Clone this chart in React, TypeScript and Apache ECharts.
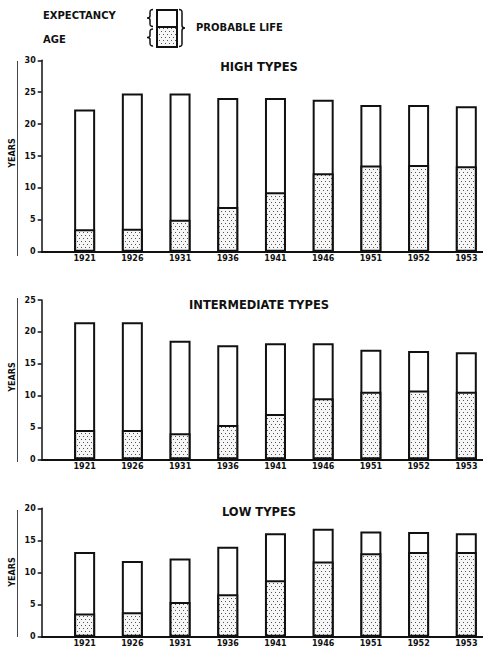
import React, { useEffect, useRef } from 'react';
import * as echarts from 'echarts';

const years = ['1921', '1926', '1931', '1936', '1941', '1946', '1951', '1952', '1953'];

const panelTitles = ['HIGH TYPES', 'INTERMEDIATE TYPES', 'LOW TYPES'];
const yAxisMax = [30, 25, 20];

// Probable life (full bar height = age + expectancy) and age (dotted lower segment)
const highLife = [22.3, 24.8, 24.8, 24.1, 24.1, 23.8, 23.0, 23.0, 22.8];
const highAge = [3.5, 3.6, 5.0, 7.0, 9.3, 12.3, 13.5, 13.6, 13.4];
const intermediateLife = [21.5, 21.5, 18.6, 17.9, 18.2, 18.2, 17.2, 17.0, 16.8];
const intermediateAge = [4.6, 4.6, 4.1, 5.4, 7.1, 9.6, 10.6, 10.8, 10.6];
const lowLife = [13.2, 11.8, 12.2, 14.0, 16.1, 16.8, 16.4, 16.3, 16.1];
const lowAge = [3.6, 3.8, 5.4, 6.6, 8.8, 11.7, 13.0, 13.2, 13.2];

const lifeSeries = [highLife, intermediateLife, lowLife];
const ageSeries = [highAge, intermediateAge, lowAge];

const FONT = '"DejaVu Sans", sans-serif';
const INK = '#111';

const panelLayout = [
  { top: 60.3, height: 191.4 },
  { top: 300, height: 159.3 },
  { top: 508.3, height: 128.4 },
];
const gridLeft = 41.7;

const leftBraceD = 'M6,0 C3.2,0 3,1 3,3 L3,6.5 C3,8 2,8.5 0,8.5 C2,8.5 3,9 3,10.5 L3,14 C3,16 3.2,17 6,17';
const rightBraceD = 'M0,0 C2.8,0 3,1 3,3 L3,16 C3,17.5 4,18.5 6,18.5 C4,18.5 3,19.5 3,21 L3,34 C3,36 2.8,37 0,37';

let shapesRegistered = false;
function registerShapes() {
  if (shapesRegistered) return;
  echarts.graphic.registerShape('leftBrace', echarts.graphic.extendPath(leftBraceD, {}) as any);
  echarts.graphic.registerShape('rightBrace', echarts.graphic.extendPath(rightBraceD, {}) as any);
  shapesRegistered = true;
}

function makeDots(): any {
  const c = document.createElement('canvas');
  c.width = 8;
  c.height = 6;
  const ctx = c.getContext('2d')!;
  ctx.fillStyle = '#f6f6f6';
  ctx.fillRect(0, 0, 8, 6);
  ctx.fillStyle = '#555';
  ctx.fillRect(1, 1, 1, 1);
  ctx.fillRect(5, 1, 1, 1);
  ctx.fillRect(3, 4, 1, 1);
  ctx.fillRect(7, 4, 1, 1);
  return { image: c, repeat: 'repeat', imageWidth: 8, imageHeight: 6 };
}

function textEl(text: string, x: number, y: number, size: number, align: string, extra: any = {}) {
  return {
    type: 'text',
    x,
    y,
    ...extra,
    style: {
      text,
      fontSize: size,
      fontWeight: 'bold',
      fontFamily: FONT,
      fill: INK,
      align,
      textAlign: align,
      verticalAlign: 'middle',
      textVerticalAlign: 'middle',
    },
  };
}

export default function App() {
  const ref = useRef<HTMLDivElement>(null);

  useEffect(() => {
    if (!ref.current) return;
    registerShapes();
    const chart = echarts.init(ref.current, null, { renderer: 'svg' });
    const dots = makeDots();

    const grid = panelLayout.map((p) => ({ left: gridLeft, right: 0, top: p.top, height: p.height }));

    const xAxis = panelLayout.map((_, i) => ({
      type: 'value',
      gridIndex: i,
      min: -0.9,
      max: 8.35,
      axisLine: { show: true, onZero: false, lineStyle: { color: INK, width: 2 } },
      axisTick: { show: false },
      splitLine: { show: false },
      axisLabel: {
        customValues: years.map((_, k) => k),
        formatter: (v: number) => years[Math.round(v)] ?? '',
        fontSize: 8,
        fontWeight: 'bold',
        fontFamily: FONT,
        color: INK,
        margin: 3,
      },
    }));

    const yAxis = panelLayout.map((_, i) => ({
      type: 'value',
      gridIndex: i,
      min: 0,
      max: yAxisMax[i],
      interval: 5,
      axisLine: { show: true, onZero: false, lineStyle: { color: INK, width: 1.5 } },
      axisTick: { show: true, length: 4, lineStyle: { color: INK, width: 1.5 } },
      splitLine: { show: false },
      axisLabel: { fontSize: 8, fontWeight: 'bold', fontFamily: FONT, color: INK, margin: 6 },
    }));

    const series: any[] = [];
    panelLayout.forEach((_, i) => {
      series.push({
        name: 'Probable life',
        type: 'bar',
        xAxisIndex: i,
        yAxisIndex: i,
        barWidth: 21,
        barGap: '-100%',
        data: lifeSeries[i].map((v, k) => [k, v]),
        itemStyle: { color: '#fff', borderColor: INK, borderWidth: 2 },
        emphasis: { disabled: true },
        z: 2,
      });
      series.push({
        name: 'Age',
        type: 'bar',
        xAxisIndex: i,
        yAxisIndex: i,
        barWidth: 21,
        barGap: '-100%',
        data: ageSeries[i].map((v, k) => [k, v]),
        itemStyle: { color: dots, borderColor: INK, borderWidth: 2 },
        emphasis: { disabled: true },
        z: 3,
      });
    });

    const graphic: any[] = [
      textEl('EXPECTANCY', 43, 15, 10, 'left'),
      textEl('AGE', 43, 39, 10, 'left'),
      textEl('PROBABLE LIFE', 196, 27, 10, 'left'),
      { type: 'rect', shape: { x: 157, y: 10, width: 20, height: 17 }, style: { fill: '#fff', stroke: INK, lineWidth: 2 } },
      { type: 'rect', shape: { x: 157, y: 27, width: 20, height: 20 }, style: { fill: dots, stroke: INK, lineWidth: 2 } },
      { type: 'leftBrace', x: 147, y: 9.5, style: { fill: 'none', stroke: INK, lineWidth: 1.5 } },
      { type: 'leftBrace', x: 147, y: 29, style: { fill: 'none', stroke: INK, lineWidth: 1.5 } },
      { type: 'rightBrace', x: 179, y: 9.5, style: { fill: 'none', stroke: INK, lineWidth: 1.5 } },
    ];
    const titleY = [67, 305, 512];
    const yearsY = [153, 377, 572];
    const marginLine = [[61, 256], [298, 462], [510, 637]];
    panelLayout.forEach((_, i) => {
      graphic.push(textEl(panelTitles[i], 259, titleY[i], 11.5, 'center'));
      graphic.push(textEl('YEARS', 12, yearsY[i], 8, 'center', { rotation: Math.PI / 2 }));
      graphic.push({
        type: 'line',
        shape: { x1: 17.5, y1: marginLine[i][0], x2: 17.5, y2: marginLine[i][1] },
        style: { stroke: '#444', lineWidth: 1 },
      });
    });

    chart.setOption({
      animation: false,
      backgroundColor: '#fff',
      grid,
      xAxis,
      yAxis,
      series,
      graphic,
    } as any);

    return () => chart.dispose();
  }, []);

  return (
    <div
      ref={ref}
      style={{ position: 'fixed', left: 0, top: 0, width: 483, height: 651, background: '#fff' }}
    />
  );
}
